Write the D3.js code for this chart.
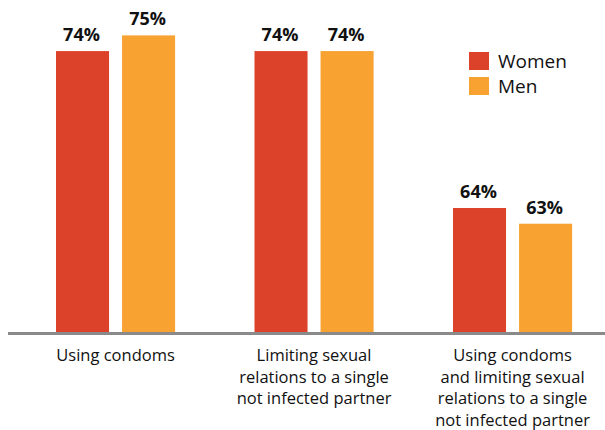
<!DOCTYPE html>
<html>
<head>
<meta charset="utf-8">
<script src="https://cdn.jsdelivr.net/npm/d3@7"></script>
<style>
  html, body { margin: 0; padding: 0; background: #fff; }
  svg { display: block; }
  text { font-family: "Open Sans", "Noto Sans", sans-serif; fill: #111; }
</style>
</head>
<body>
<svg id="chart" width="605" height="430"></svg>
<script>
// Share of respondents naming each prevention method
const categories = [
  ["Using condoms"],
  ["Limiting sexual", "relations to a single", "not infected partner"],
  ["Using condoms", "and limiting sexual", "relations to a single", "not infected partner"]
];
const seriesNames = ["Women", "Men"];
const women = [74, 74, 64];
const men = [75, 74, 63];
const colors = ["#dc4229", "#f7a231"];

const svg = d3.select("#chart");
const baseY = 332;

const catKeys = categories.map((c, i) => i);
const x0 = d3.scaleBand().domain(catKeys).range([16.3, 611.8])
  .paddingInner(0.4).paddingOuter(0.2);
const x1 = d3.scaleBand().domain(seriesNames).range([0, x0.bandwidth()])
  .paddingInner(13 / 66).paddingOuter(0);
const y = d3.scaleLinear().domain([56.1, 77]).range([baseY, 4]);
const color = d3.scaleOrdinal().domain(seriesNames).range(colors);

const rows = catKeys.map(i => ({
  i,
  values: [{ s: "Women", v: women[i] }, { s: "Men", v: men[i] }]
}));

const groups = svg.selectAll("g.group").data(rows).join("g")
  .attr("class", "group")
  .attr("transform", d => `translate(${x0(d.i)},0)`);

groups.selectAll("rect").data(d => d.values).join("rect")
  .attr("x", d => x1(d.s))
  .attr("y", d => y(d.v))
  .attr("width", x1.bandwidth())
  .attr("height", d => baseY - y(d.v))
  .attr("fill", d => color(d.s));

groups.selectAll("text.val").data(d => d.values).join("text")
  .attr("class", "val")
  .attr("x", d => x1(d.s) + x1.bandwidth() / 2 - 1)
  .attr("y", d => y(d.v) - 10)
  .attr("text-anchor", "middle")
  .style("font-size", "18px")
  .style("font-weight", "bold")
  .text(d => d.v + "%");

// Baseline
svg.append("line")
  .attr("x1", 8).attr("x2", 605)
  .attr("y1", baseY + 1.5).attr("y2", baseY + 1.5)
  .attr("stroke", "#8a8a8a")
  .attr("stroke-width", 3);

// Category labels
const labels = svg.selectAll("text.cat").data(rows).join("text")
  .attr("class", "cat")
  .attr("text-anchor", "middle")
  .style("font-size", "16.5px");
labels.selectAll("tspan").data(d => categories[d.i].map(t => ({ t, c: x0(d.i) + x0.bandwidth() / 2 })))
  .join("tspan")
  .attr("x", d => d.c)
  .attr("y", (d, k) => 361 + k * 21.5)
  .text(d => d.t);

// Legend
const legend = svg.append("g").attr("transform", "translate(469,52)");
const items = legend.selectAll("g").data(seriesNames).join("g")
  .attr("transform", (d, k) => `translate(0,${k * 25})`);
items.append("rect").attr("width", 20).attr("height", 18).attr("fill", d => color(d));
items.append("text").attr("x", 29).attr("y", 16)
  .style("font-size", "19px")
  .text(d => d);
</script>
</body>
</html>
